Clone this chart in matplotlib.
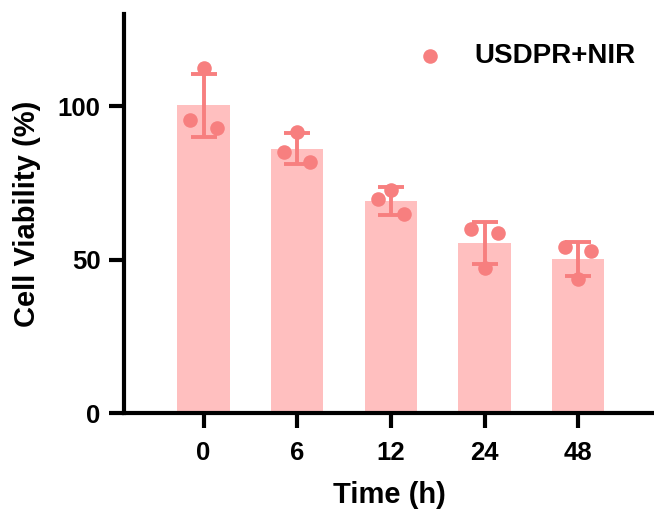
import numpy as np
import matplotlib
matplotlib.use('Agg')
import matplotlib.pyplot as plt

plt.rcParams['font.family'] = ['Liberation Sans', 'DejaVu Sans']
plt.rcParams['font.weight'] = 'bold'

# data
times = ['0', '6', '12', '24', '48']
means = [100.2, 86.1, 69.1, 55.4, 50.2]
sds = [10.4, 5.1, 4.5, 6.7, 5.5]
pts_left = [95.4, 85.0, 69.7, 59.9, 54.0]
pts_mid = [112.4, 91.5, 72.7, 47.4, 43.6]
pts_right = [92.8, 81.8, 64.8, 58.8, 52.9]

bar_col = '#FFBFBF'
dot_col = '#F77F7F'

fig = plt.figure(figsize=(6.54, 5.11), dpi=100)
ax = fig.add_axes([124/654, (511-413)/511, 1-124/654, (413-14)/511])

x = np.arange(len(times))
ax.bar(x, means, width=0.56, color=bar_col, zorder=1)
ax.errorbar(x, means, yerr=sds, fmt='none', ecolor=dot_col, elinewidth=2.8,
            capsize=9.5, capthick=2.8, zorder=2)
off = 0.14
ax.scatter(x - off, pts_left, s=110, color=dot_col, zorder=3, linewidths=0,
           label='USDPR+NIR')
ax.scatter(x, pts_mid, s=110, color=dot_col, zorder=3, linewidths=0)
ax.scatter(x + off, pts_right, s=110, color=dot_col, zorder=3, linewidths=0)

ax.set_xlim(-0.85, 4.81)
ax.set_ylim(0, 130)
ax.set_xticks(x)
ax.set_xticklabels(times)
ax.set_yticks([0, 50, 100])

for s in ['top', 'right']:
    ax.spines[s].set_visible(False)
for s in ['left', 'bottom']:
    ax.spines[s].set_linewidth(3)
ax.tick_params(axis='both', length=11, width=3, labelsize=18.5)
ax.tick_params(axis='x', pad=9)
ax.tick_params(axis='y', pad=6)

ax.set_xlabel('Time (h)', fontsize=21, fontweight='bold', labelpad=12)
ax.set_ylabel('Cell Viability (%)', fontsize=21, fontweight='bold', labelpad=12)

ax.legend(loc='upper right', bbox_to_anchor=(1.013, 0.99), frameon=False,
          fontsize=20, handlelength=1.2, handletextpad=1.0, markerscale=1.0)

fig.savefig('out.png', dpi=100)
